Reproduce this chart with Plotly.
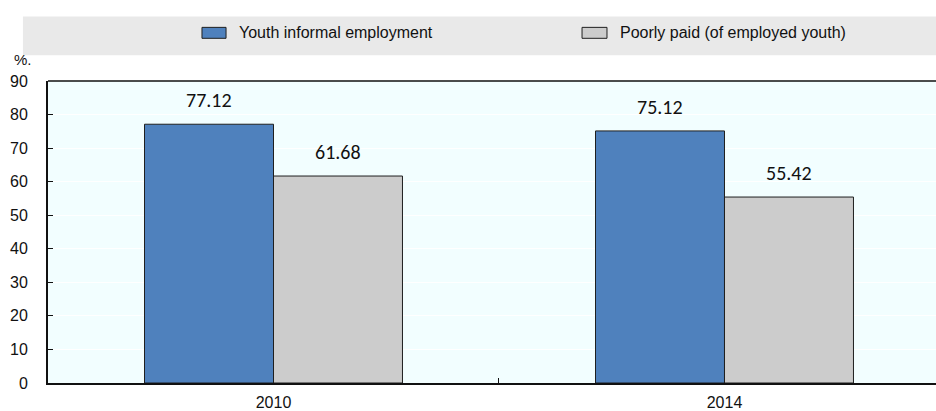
import plotly.graph_objects as go

# Data
years = ["2010", "2014"]
informal = [77.12, 75.12]
poorly_paid = [61.68, 55.42]
series_names = ["Youth informal employment", "Poorly paid (of employed youth)"]
y_ticks = [0, 10, 20, 30, 40, 50, 60, 70, 80, 90]

BLUE = "#4F81BD"
GREY = "#CCCCCC"
EDGE = "#1F1F1F"
NARROW = "Liberation Sans Narrow, Arial Narrow, Liberation Sans, Arial, sans-serif"
LABEL_FONT = "Carlito, Lato, Open Sans, sans-serif"
BARGAP = 0.428

fig = go.Figure()
fig.add_trace(go.Bar(x=years, y=informal, name=series_names[0],
                     marker=dict(color=BLUE, line=dict(color=EDGE, width=1))))
fig.add_trace(go.Bar(x=years, y=poorly_paid, name=series_names[1],
                     marker=dict(color=GREY, line=dict(color=EDGE, width=1))))

# Value labels above each bar, centred on the bar within its group
half = (1 - BARGAP) / 4
annotations = []
for i, (a, b) in enumerate(zip(informal, poorly_paid)):
    for off, v in ((-half, a), (half, b)):
        annotations.append(dict(x=i + off, y=v, xref="x", yref="y", text=f"{v:.2f}",
                                showarrow=False, yanchor="bottom", xanchor="center",
                                yshift=10,
                                font=dict(family=LABEL_FONT, size=20, color="#111111")))

# Unit label
annotations.append(dict(x=-0.0405, y=1.072, xref="paper", yref="paper", text="%.",
                        showarrow=False, xanchor="left", yanchor="middle",
                        font=dict(family=NARROW, size=15, color="#111111")))

# Legend band with swatches and labels
shapes = [dict(type="rect", xref="paper", yref="paper", x0=-0.0282, x1=1.0,
               y0=1.0855, y1=1.2138, fillcolor="#E9E9E9", line=dict(width=0), layer="below")]
legend_items = [(0.1734, 0.2005, 0.2128, BLUE, series_names[0]),
                (0.6014, 0.6295, 0.6419, GREY, series_names[1])]
for x0, x1, tx, col, name in legend_items:
    shapes.append(dict(type="rect", xref="paper", yref="paper", x0=x0, x1=x1,
                       y0=1.1414, y1=1.1776, fillcolor=col,
                       line=dict(color=EDGE, width=1)))
    annotations.append(dict(x=tx, y=1.1595, xref="paper", yref="paper", text=name,
                            showarrow=False, xanchor="left", yanchor="middle",
                            font=dict(family=NARROW, size=16, color="#111111")))

# Top frame line
shapes.append(dict(type="line", xref="paper", yref="paper", x0=0, x1=1, y0=1, y1=1,
                   line=dict(color="#111111", width=1.5)))

fig.update_layout(
    width=936, height=411,
    margin=dict(l=48, r=0, t=81, b=26),
    paper_bgcolor="white",
    plot_bgcolor="#F2FEFF",
    barmode="group",
    bargap=BARGAP,
    bargroupgap=0,
    showlegend=False,
    annotations=annotations,
    shapes=shapes,
    xaxis=dict(type="category", range=[-0.5, 1.469],
               showline=True, linecolor="#111111", linewidth=2,
               ticks="inside", tickson="boundaries", ticklen=5, tickcolor="#111111",
               showgrid=False, ticklabelstandoff=4,
               tickfont=dict(family=NARROW, size=16, color="#111111")),
    yaxis=dict(range=[0, 90], tickvals=y_ticks, ticktext=[str(t) for t in y_ticks],
               showline=True, linecolor="#111111", linewidth=2,
               ticks="inside", ticklen=5, tickcolor="#111111",
               showgrid=True, gridcolor="white", gridwidth=1,
               zeroline=False, ticklabelstandoff=15,
               tickfont=dict(family=NARROW, size=16, color="#111111")),
)

fig.write_html("out.html")
